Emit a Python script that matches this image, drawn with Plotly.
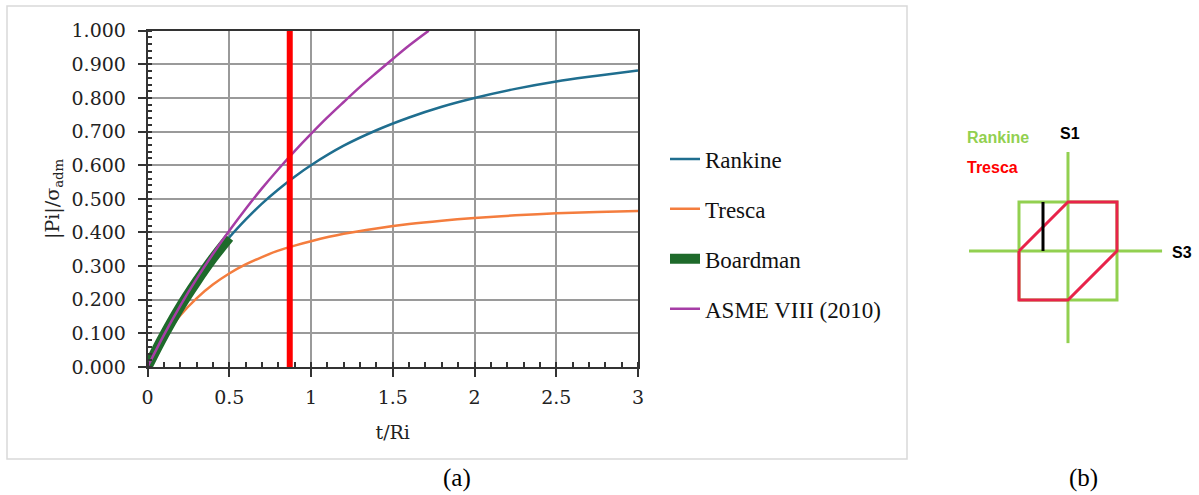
import plotly.graph_objects as go

W, H = 1199, 495

# ---- data (a) ----
t_ratio = [0, 0.1, 0.2, 0.3, 0.4, 0.5, 0.6, 0.7, 0.8, 0.9, 1.0, 1.2, 1.4, 1.6, 1.8, 2.0, 2.25, 2.5, 2.75, 3.0]
rankine = [0, 0.095, 0.180, 0.257, 0.324, 0.385, 0.438, 0.486, 0.528, 0.566, 0.600, 0.658, 0.704, 0.742, 0.774, 0.800, 0.827, 0.849, 0.866, 0.882]
tresca = [0, 0.087, 0.153, 0.204, 0.245, 0.278, 0.305, 0.327, 0.346, 0.361, 0.374, 0.396, 0.412, 0.425, 0.435, 0.443, 0.451, 0.457, 0.461, 0.464]

board_t = [0, 0.1, 0.2, 0.3, 0.4, 0.5]
boardman = [0, 0.094, 0.179, 0.254, 0.323, 0.385]

asme_t = [0, 0.1, 0.2, 0.3, 0.4, 0.5, 0.6, 0.7, 0.8, 0.9, 1.0, 1.1, 1.2, 1.3, 1.4, 1.5, 1.6, 1.72]
asme = [0, 0.095, 0.182, 0.262, 0.336, 0.405, 0.470, 0.531, 0.588, 0.642, 0.693, 0.742, 0.788, 0.833, 0.875, 0.916, 0.956, 1.0]

limit_t = [0.87, 0.87]
limit_y = [0, 1.0]

# ---- data for diagram (b) ----
axis_h_x = [-2.02, 1.92]
axis_h_y = [0, 0]
axis_v_x = [0, 0]
axis_v_y = [-1.88, 2.02]
square_x = [-1, 1, 1, -1, -1]
square_y = [-1, -1, 1, 1, -1]
hex_x = [-1, 0, 1, 1, 0, -1, -1]
hex_y = [0, 1, 1, 0, -1, -1, 0]
bar_x = [-0.51, -0.51]
bar_y = [0, 1]

SERIF = "DejaVu Serif"
LSERIF = "Liberation Serif"

fig = go.Figure()

fig.add_trace(go.Scatter(x=t_ratio, y=rankine, mode="lines", name="Rankine",
                         line=dict(color="#1F6E8F", width=2.5, shape="spline"),
                         legendgroup="a"))
fig.add_trace(go.Scatter(x=t_ratio, y=tresca, mode="lines", name="Tresca",
                         line=dict(color="#F47D3E", width=2.5, shape="spline"),
                         legendgroup="b"))
fig.add_trace(go.Scatter(x=board_t, y=boardman, mode="lines", name="Boardman",
                         line=dict(color="#1E6A2B", width=10, shape="spline"),
                         legendgroup="c", cliponaxis=False))
fig.add_trace(go.Scatter(x=asme_t, y=asme, mode="lines", name="ASME VIII (2010)",
                         line=dict(color="#A63DA6", width=2.5, shape="spline"),
                         legendgroup="d"))
fig.add_trace(go.Scatter(x=limit_t, y=limit_y, mode="lines", showlegend=False,
                         line=dict(color="#FF0000", width=6), cliponaxis=False))

# diagram (b)
green = "#92D050"
red = "#E8234A"
for xs, ys in [(axis_h_x, axis_h_y), (axis_v_x, axis_v_y), (square_x, square_y)]:
    fig.add_trace(go.Scatter(x=xs, y=ys, mode="lines", showlegend=False,
                             line=dict(color=green, width=3), xaxis="x2", yaxis="y2",
                             hoverinfo="skip"))
fig.add_trace(go.Scatter(x=hex_x, y=hex_y, mode="lines", showlegend=False,
                         line=dict(color=red, width=3), xaxis="x2", yaxis="y2", hoverinfo="skip"))
fig.add_trace(go.Scatter(x=bar_x, y=bar_y, mode="lines", showlegend=False,
                         line=dict(color="black", width=3), xaxis="x2", yaxis="y2", hoverinfo="skip"))

def px_x(p):
    return p / W

def px_y(p):
    return 1 - p / H

fig.update_layout(
    width=W, height=H, autosize=False,
    margin=dict(l=0, r=0, t=0, b=0, pad=0, autoexpand=False),
    paper_bgcolor="white", plot_bgcolor="white",
    font=dict(family=SERIF, color="#222222"),
    xaxis=dict(
        domain=[px_x(147.5), px_x(638)], range=[0, 3], automargin=False,
        dtick=0.5, tick0=0, showgrid=True, gridcolor="#9a9a9a", gridwidth=1.5,
        showline=True, linecolor="#333333", linewidth=1.5, mirror=True,
        ticks="outside", ticklen=8, tickcolor="#333333", tickwidth=1.5,
        minor=dict(dtick=0.1, ticks="inside", ticklen=5, tickcolor="#333333", showgrid=False),
        tickfont=dict(family=SERIF, size=19, color="#222222"), ticklabelstandoff=4,
        zeroline=False,
        title=dict(text="t/Ri", font=dict(family=SERIF, size=19, color="#222222"), standoff=19),
    ),
    yaxis=dict(
        domain=[px_y(367), px_y(30.7)], range=[0, 1.0], automargin=False,
        dtick=0.1, tick0=0, tickformat=".3f", showgrid=True, gridcolor="#9a9a9a", gridwidth=1.5,
        showline=True, linecolor="#333333", linewidth=1.5, mirror=True,
        ticks="outside", ticklen=8, tickcolor="#333333", tickwidth=1.5,
        minor=dict(dtick=0.02, ticks="inside", ticklen=5, tickcolor="#333333", showgrid=False),
        tickfont=dict(family=SERIF, size=19, color="#222222"), ticklabelstandoff=8,
        zeroline=False,
        title=dict(text="|Pi|/σ<sub>adm</sub>", font=dict(family=SERIF, size=19, color="#222222"), standoff=7),
    ),
    xaxis2=dict(domain=[px_x(960), px_x(1180)], range=[-2.204, 2.286], visible=False,
                anchor="y2", fixedrange=True, automargin=False),
    yaxis2=dict(domain=[px_y(350), px_y(140)], range=[-2.02, 2.265], visible=False,
                anchor="x2", fixedrange=True, automargin=False),
    legend=dict(x=px_x(665), y=px_y(234), xanchor="left", yanchor="middle",
                font=dict(family=LSERIF, size=23, color="#111111"),
                traceorder="grouped", tracegroupgap=17, bgcolor="rgba(0,0,0,0)"),
    showlegend=True,
)

# outer border of chart (a)
fig.add_shape(type="rect", xref="paper", yref="paper",
              x0=px_x(7), x1=px_x(907), y0=px_y(459), y1=px_y(6),
              line=dict(color="#d9d9d9", width=1.5), layer="below")

ann = [
    dict(text="(a)", x=px_x(457), y=px_y(478), font=dict(family=LSERIF, size=25, color="black")),
    dict(text="(b)", x=px_x(1083), y=px_y(478), font=dict(family=LSERIF, size=25, color="black")),
    dict(text="<b>Rankine</b>", x=px_x(965), y=px_y(137), xanchor="left",
         font=dict(family="Liberation Sans", size=16, color=green)),
    dict(text="<b>Tresca</b>", x=px_x(965), y=px_y(168), xanchor="left",
         font=dict(family="Liberation Sans", size=16, color="#FF0000")),
    dict(text="<b>S1</b>", x=px_x(1070), y=px_y(134), font=dict(family="Liberation Sans", size=16, color="black")),
    dict(text="<b>S3</b>", x=px_x(1182), y=px_y(253), font=dict(family="Liberation Sans", size=16, color="black")),
]
for a in ann:
    a.setdefault("xanchor", "center")
    fig.add_annotation(xref="paper", yref="paper", showarrow=False, yanchor="middle", **a)

fig.write_html("out.html", config={"displayModeBar": False},
               post_script="document.body.style.margin='0';")
